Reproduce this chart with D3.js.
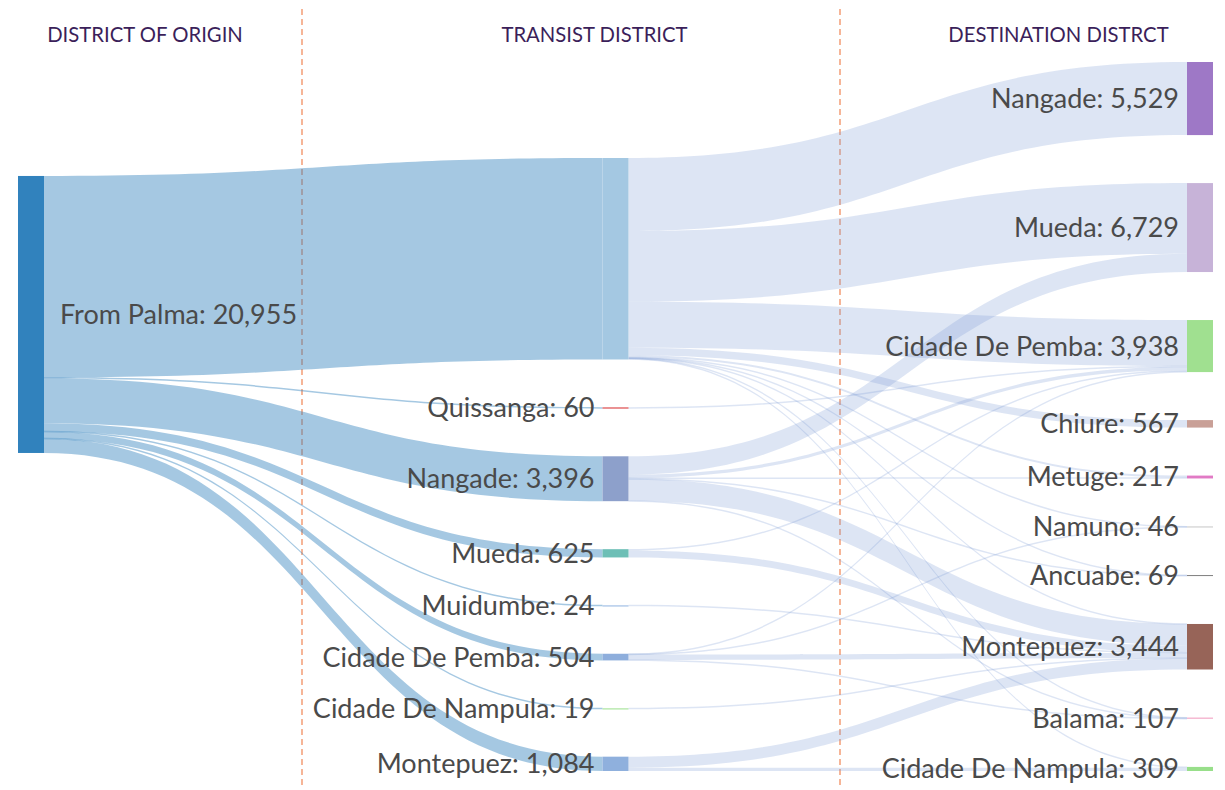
<!DOCTYPE html>
<html>
<head>
<meta charset="utf-8">
<script src="https://cdn.jsdelivr.net/npm/d3@7"></script>
<style>
  body { margin: 0; background: #fff; }
  text { font-family: Lato, "Open Sans", sans-serif; }
</style>
</head>
<body>
<div id="chart"></div>
<script>
var originNames = ["From Palma"];
var transitNames = ["", "Quissanga", "Nangade", "Mueda", "Muidumbe", "Cidade De Pemba", "Cidade De Nampula", "Montepuez"];
var destNames = ["Nangade", "Mueda", "Cidade De Pemba", "Chiure", "Metuge", "Namuno", "Ancuabe", "Montepuez", "Balama", "Cidade De Nampula"];

// people leaving Palma, per transit district (same order as transitNames)
var originToTransit = [15243, 60, 3396, 625, 24, 504, 19, 1084];

// [transit index, destination index, people]
var transitToDest = [
  [0, 0, 5529], [0, 1, 5341], [0, 2, 3480], [0, 3, 567], [0, 4, 157],
  [0, 5, 30], [0, 6, 40], [0, 7, 13], [0, 8, 27], [0, 9, 59],
  [1, 2, 60],
  [2, 1, 1388], [2, 2, 250], [2, 4, 60], [2, 6, 29], [2, 7, 1629], [2, 8, 40],
  [3, 2, 100], [3, 7, 525],
  [4, 7, 24],
  [5, 2, 48], [5, 5, 16], [5, 7, 400], [5, 8, 40],
  [6, 7, 19],
  [7, 7, 834], [7, 9, 250]
];

var columnTitles = ["DISTRICT OF ORIGIN", "TRANSIST DISTRICT", "DESTINATION DISTRCT"];

var originColors = ["#3182bd"];
var transitColors = ["#a4c8e2", "#d62728", "#8da0cb", "#6dbfb6", "#8fb3e0", "#8eaedc", "#98df8a", "#8fb0dd"];
var destColors = ["#9e78c6", "#c7b3d8", "#a0e090", "#c9a097", "#e17ac5", "#c7c7c7", "#7f7f7f", "#976458", "#f5b5d0", "#98df8a"];

var width = 1225, height = 790;
var nodeWidth = 26, nodePadding = 48, iterations = 32;
var ext = {x0: 18, x1: 1213, y0: 62, y1: 771};
var minLinkWidth = 1.5;

// build graph
var links = [];
var columns = [originNames, transitNames, destNames].map(function(names, c) {
  var colors = [originColors, transitColors, destColors][c];
  return names.map(function(name, i) {
    return {name: name, color: colors[i], column: c, sourceLinks: [], targetLinks: []};
  });
});
var nodes = columns.flat();

function addLink(s, t, v) {
  var l = {source: s, target: t, value: v};
  s.sourceLinks.push(l);
  t.targetLinks.push(l);
  links.push(l);
}
originToTransit.forEach(function(v, i) { addLink(columns[0][0], columns[1][i], v); });
transitToDest.forEach(function(d) { addLink(columns[1][d[0]], columns[2][d[1]], d[2]); });

nodes.forEach(function(n) {
  n.value = Math.max(d3.sum(n.sourceLinks, function(l) { return l.value; }),
                     d3.sum(n.targetLinks, function(l) { return l.value; }));
});

// horizontal placement
var xCol = d3.scaleLinear().domain([0, columns.length - 1]).range([ext.x0, ext.x1 - nodeWidth]);
nodes.forEach(function(n) { n.x0 = xCol(n.column); n.x1 = n.x0 + nodeWidth; });

// vertical placement (sankey relaxation, order kept)
var ky = d3.min(columns, function(col) {
  return (ext.y1 - ext.y0 - (col.length - 1) * nodePadding) / d3.sum(col, function(n) { return n.value; });
});
columns.forEach(function(col) {
  var y = ext.y0;
  col.forEach(function(n) { n.y0 = y; n.y1 = y + n.value * ky; y = n.y1 + nodePadding; });
});
links.forEach(function(l) { l.width = l.value * ky; });

function center(n) { return (n.y0 + n.y1) / 2; }

function resolveCollisions() {
  columns.forEach(function(col) {
    var y = ext.y0, node, dy, i;
    for (i = 0; i < col.length; i++) {
      node = col[i];
      dy = y - node.y0;
      if (dy > 0) { node.y0 += dy; node.y1 += dy; }
      y = node.y1 + nodePadding;
    }
    dy = y - nodePadding - ext.y1;
    if (dy > 0) {
      node.y0 -= dy; node.y1 -= dy;
      y = node.y0;
      for (i = col.length - 2; i >= 0; i--) {
        node = col[i];
        dy = node.y1 + nodePadding - y;
        if (dy > 0) { node.y0 -= dy; node.y1 -= dy; }
        y = node.y0;
      }
    }
  });
}

function relaxLeftToRight(alpha) {
  columns.forEach(function(col) {
    col.forEach(function(n) {
      if (!n.targetLinks.length) return;
      var c = d3.sum(n.targetLinks, function(l) { return center(l.source) * l.value; }) /
              d3.sum(n.targetLinks, function(l) { return l.value; });
      var dy = (c - center(n)) * alpha;
      n.y0 += dy; n.y1 += dy;
    });
  });
}

function relaxRightToLeft(alpha) {
  columns.slice().reverse().forEach(function(col) {
    col.forEach(function(n) {
      if (!n.sourceLinks.length) return;
      var c = d3.sum(n.sourceLinks, function(l) { return center(l.target) * l.value; }) /
              d3.sum(n.sourceLinks, function(l) { return l.value; });
      var dy = (c - center(n)) * alpha;
      n.y0 += dy; n.y1 += dy;
    });
  });
}

resolveCollisions();
for (var alpha = 1, it = iterations; it > 0; --it) {
  relaxRightToLeft(alpha *= 0.99);
  resolveCollisions();
  relaxLeftToRight(alpha);
  resolveCollisions();
}

// link offsets inside nodes
nodes.forEach(function(n) {
  n.sourceLinks.sort(function(a, b) { return a.target.y0 - b.target.y0; });
  n.targetLinks.sort(function(a, b) { return a.source.y0 - b.source.y0; });
  var ys = n.y0, yt = n.y0;
  n.sourceLinks.forEach(function(l) { l.sy = ys; ys += l.width; });
  n.targetLinks.forEach(function(l) { l.ty = yt; yt += l.width; });
});

function bandPath(l) {
  var xa = l.source.x1, xb = l.target.x0, xm = d3.interpolateNumber(xa, xb)(0.5);
  var w = Math.max(minLinkWidth, l.width);
  var sy = l.sy + l.width / 2 - w / 2, ty = l.ty + l.width / 2 - w / 2;
  var p = d3.path();
  p.moveTo(xa, sy);
  p.bezierCurveTo(xm, sy, xm, ty, xb, ty);
  p.lineTo(xb, ty + w);
  p.bezierCurveTo(xm, ty + w, xm, sy + w, xa, sy + w);
  p.closePath();
  return p.toString();
}

var svg = d3.select("#chart").append("svg")
  .attr("width", width)
  .attr("height", height);

// dashed column separators
svg.selectAll(".sep")
  .data([302, 840])
  .enter().append("line")
  .attr("class", "sep")
  .attr("x1", function(d) { return d; })
  .attr("x2", function(d) { return d; })
  .attr("y1", 9)
  .attr("y2", 788)
  .style("stroke", "#f28e60")
  .style("stroke-width", 1.3)
  .style("stroke-dasharray", "6,4");

svg.selectAll(".title")
  .data(columnTitles)
  .enter().append("text")
  .attr("class", "title")
  .attr("x", function(d, i) { return [145, 594.5, 1058.5][i]; })
  .attr("y", 41.5)
  .attr("text-anchor", "middle")
  .style("font-size", "20.3px")
  .style("fill", "#3b1f5a")
  .text(function(d) { return d; });

svg.append("g")
  .selectAll("path")
  .data(links)
  .enter().append("path")
  .attr("d", bandPath)
  .style("fill", function(d) {
    return d.source.column === 0 ? "rgba(49,130,189,0.44)" : "rgba(125,155,212,0.26)";
  });

svg.append("g")
  .selectAll("rect")
  .data(nodes)
  .enter().append("rect")
  .attr("x", function(d) { return d.x0; })
  .attr("y", function(d) { return d.y0; })
  .attr("width", nodeWidth)
  .attr("height", function(d) { return Math.max(1, d.y1 - d.y0); })
  .style("fill", function(d) { return d.color; });

var fmt = d3.format(",");
svg.append("g")
  .selectAll("text")
  .data(nodes.filter(function(d) { return d.name; }))
  .enter().append("text")
  .attr("x", function(d) { return d.column === 0 ? d.x1 + 16 : d.x0 - 8; })
  .attr("y", function(d) { return center(d); })
  .attr("dy", "0.35em")
  .attr("text-anchor", function(d) { return d.column === 0 ? "start" : "end"; })
  .style("font-size", "27px")
  .style("fill", "#4a4a4a")
  .text(function(d) { return d.name + ": " + fmt(d.value); });
</script>
</body>
</html>
